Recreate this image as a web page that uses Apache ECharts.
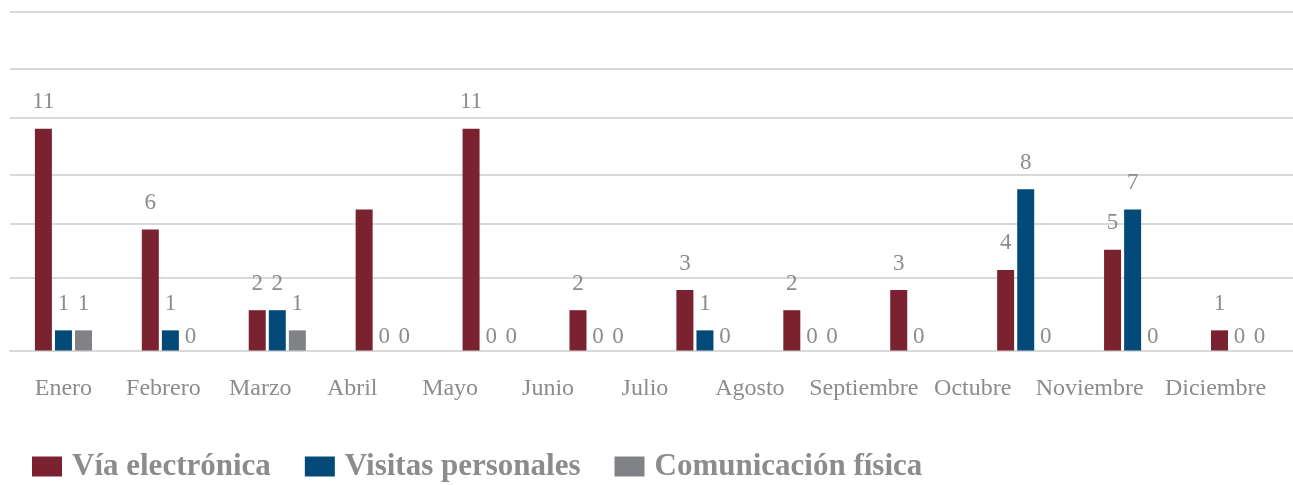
<!DOCTYPE html>
<html>
<head>
<meta charset="utf-8">
<style>
  html, body { margin: 0; padding: 0; background: #ffffff; }
  #chart { width: 1293px; height: 485px; }
</style>
<script src="https://cdn.jsdelivr.net/npm/echarts@6/dist/echarts.min.js"></script>
</head>
<body>
<div id="chart"></div>
<script>
// Months on the category axis
const months = ['Enero', 'Febrero', 'Marzo', 'Abril', 'Mayo', 'Junio',
  'Julio', 'Agosto', 'Septiembre', 'Octubre', 'Noviembre', 'Diciembre'];

// Monthly counts per contact channel
const viaElectronica = [11, 6, 2, 7, 11, 2, 3, 2, 3, 4, 5, 1];
const visitasPersonales = [1, 1, 2, 0, 0, 0, 1, 0, 0, 8, 7, 0];
const comunicacionFisica = [1, 0, 1, 0, 0, 0, 0, 0, 0, 0, 0, 0];

// Values where horizontal guide lines are drawn
const gridValues = [0, 3.63, 6.28, 8.71, 11.56, 14.0, 16.8];

// Month indexes whose value label is left off, per series
const hiddenLabels = {
  viaElectronica: [3],
  visitasPersonales: [],
  comunicacionFisica: [8]
};

// Horizontal nudge (px) of each month name from its slot centre
const monthLabelShift = [0, -7, -17, -32, -41, -50, -60, -62, -55, -53, -43, -24];

const labelColor = '#8c8c8c';
const serif = '"Liberation Serif", "DejaVu Serif", serif';
const axisFontSize = 24;

function toItems(values, hidden) {
  return values.map((v, i) => ({
    value: v,
    label: {
      show: hidden.indexOf(i) === -1,
      distance: v === 0 ? 2 : 15
    }
  }));
}

function barSeries(name, values, color, hidden) {
  return {
    name: name,
    type: 'bar',
    barWidth: 17,
    barGap: '18%',
    itemStyle: { color: color },
    label: {
      show: true,
      position: 'top',
      color: labelColor,
      fontFamily: serif,
      fontSize: 23
    },
    data: toItems(values, hidden)
  };
}

// One rich style per month so each name can sit off-centre
const monthRich = {};
monthLabelShift.forEach((s, i) => {
  monthRich['m' + i] = {
    color: labelColor,
    fontFamily: serif,
    fontSize: axisFontSize,
    padding: s < 0 ? [0, -2 * s, 0, 0] : [0, 0, 0, 2 * s]
  };
});

const chart = echarts.init(document.getElementById('chart'), null, { renderer: 'canvas' });

chart.setOption({
  animation: false,
  backgroundColor: '#ffffff',
  grid: { left: 10, right: 0, top: 12, bottom: 134.5, containLabel: false },
  legend: {
    left: 32,
    top: 451,
    padding: 0,
    itemWidth: 30,
    itemHeight: 20,
    itemGap: 34,
    icon: 'rect',
    textStyle: {
      color: labelColor,
      fontFamily: serif,
      fontWeight: 'bold',
      fontSize: 31,
      padding: [0, 0, 0, 5]
    },
    data: ['Vía electrónica', 'Visitas personales', 'Comunicación física']
  },
  xAxis: {
    type: 'category',
    data: months,
    axisLine: { show: true, lineStyle: { color: '#d9d9d9', width: 2 } },
    axisTick: { show: false },
    axisLabel: {
      color: labelColor,
      fontFamily: serif,
      fontSize: axisFontSize,
      margin: 26,
      interval: 0,
      formatter: (value, index) => '{m' + index + '|' + value + '}',
      rich: monthRich
    }
  },
  yAxis: {
    type: 'value',
    min: 0,
    max: 16.8,
    axisLine: { show: false },
    axisTick: { show: false, customValues: gridValues },
    axisLabel: { show: false, customValues: gridValues },
    splitLine: { show: true, lineStyle: { color: '#d9d9d9', width: 2 } }
  },
  series: [
    barSeries('Vía electrónica', viaElectronica, '#7a2230', hiddenLabels.viaElectronica),
    barSeries('Visitas personales', visitasPersonales, '#034a79', hiddenLabels.visitasPersonales),
    barSeries('Comunicación física', comunicacionFisica, '#818285', hiddenLabels.comunicacionFisica)
  ]
});
</script>
</body>
</html>
